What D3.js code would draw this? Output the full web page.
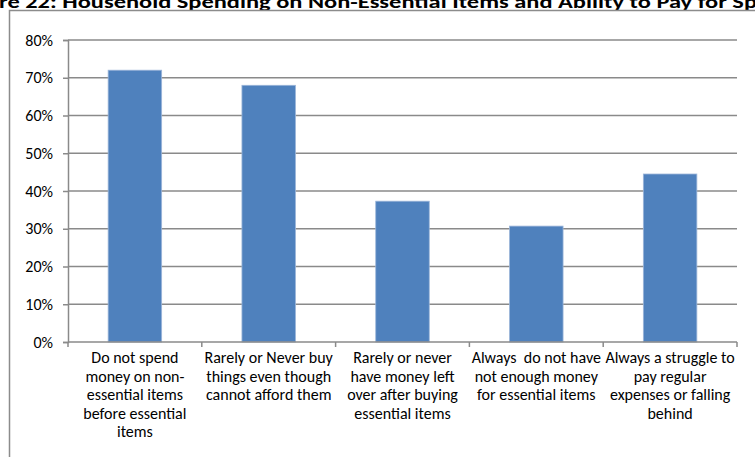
<!DOCTYPE html>
<html>
<head>
<meta charset="utf-8">
<script src="https://cdn.jsdelivr.net/npm/d3@7"></script>
<style>
  html, body { margin: 0; padding: 0; background: #fff; overflow: hidden; }
  svg { display: block; font-family: Carlito, Calibri, Lato, "Liberation Sans", sans-serif; }
  .ylab { font-size: 16px; font-family: Carlito, Calibri, Lato, "Liberation Sans", sans-serif; }
</style>
</head>
<body>
<svg id="chart" width="755" height="457"></svg>
<script>
const titleText = 're 22: Household Spending on Non-Essential Items and Ability to Pay for Sp';

const categories = [
  ['Do not spend', 'money on non-', 'essential items', 'before essential', 'items'],
  ['Rarely or Never buy', 'things even though', 'cannot afford them'],
  ['Rarely or never', 'have money left', 'over after buying', 'essential items'],
  ['Always\u00a0 do not have', 'not enough money', 'for essential items'],
  ['Always a struggle to', 'pay regular', 'expenses or falling', 'behind']
];
const values = [0.72, 0.68, 0.373, 0.307, 0.445];
const yTicks = [0, 0.1, 0.2, 0.3, 0.4, 0.5, 0.6, 0.7, 0.8];

const svg = d3.select('#chart');
const plotLeft = 68, plotRight = 737, plotTop = 40, plotBottom = 342;

// title (cut off at top edge, as in the source)
svg.append('text')
  .attr('x', -1).attr('y', 8)
  .attr('font-size', 17).attr('font-weight', 'bold')
  .attr('fill', '#000')
  .attr('textLength', 758).attr('lengthAdjust', 'spacingAndGlyphs')
  .text(titleText);

// chart frame
svg.append('rect')
  .attr('x', 9.5).attr('y', 10.5).attr('width', 760).attr('height', 460)
  .attr('fill', 'none').attr('stroke', '#8c8c8c').attr('stroke-width', 1.5);

const idx = d3.range(categories.length);
const x = d3.scaleBand().domain(idx).range([plotLeft, plotRight]).paddingInner(0.6).paddingOuter(0.3);
const xc = d3.scaleBand().domain(idx).range([plotLeft, plotRight]);
const y = d3.scaleLinear().domain([0, 0.8]).range([plotBottom, plotTop]);

// gridlines
svg.append('g')
  .selectAll('line')
  .data(yTicks.filter(d => d > 0))
  .join('line')
  .attr('x1', plotLeft).attr('x2', plotRight)
  .attr('y1', d => y(d)).attr('y2', d => y(d))
  .attr('stroke', '#8a8a8a').attr('stroke-width', 1.5);

// y axis (line + ticks from d3, labels drawn separately)
const yAxis = svg.append('g')
  .attr('transform', `translate(${plotLeft},0)`)
  .call(d3.axisLeft(y).tickValues(yTicks).tickFormat('').tickSize(5));
yAxis.select('.domain').attr('stroke', '#8a8a8a').attr('stroke-width', 1.5);
yAxis.selectAll('.tick line').attr('stroke', '#8a8a8a').attr('stroke-width', 1.5);

svg.append('g')
  .selectAll('text')
  .data(yTicks)
  .join('text')
  .attr('class', 'ylab')
  .attr('x', plotLeft - 15)
  .attr('y', d => y(d))
  .attr('dy', '0.35em')
  .attr('text-anchor', 'end')
  .attr('fill', '#000')
  .text(d3.format('.0%'));

// bars
svg.append('g')
  .selectAll('rect')
  .data(values)
  .join('rect')
  .attr('x', (d, i) => x(i))
  .attr('width', x.bandwidth())
  .attr('y', d => y(d))
  .attr('height', d => y(0) - y(d))
  .attr('fill', '#4f81bd')
  .attr('stroke', '#9bb5d9').attr('stroke-width', 0.8);

// x axis line and boundary ticks
svg.append('line')
  .attr('x1', plotLeft).attr('x2', plotRight).attr('y1', plotBottom).attr('y2', plotBottom)
  .attr('stroke', '#8a8a8a').attr('stroke-width', 1.5);
svg.append('g')
  .selectAll('line')
  .data(d3.range(categories.length + 1))
  .join('line')
  .attr('x1', i => plotLeft + i * xc.step()).attr('x2', i => plotLeft + i * xc.step())
  .attr('y1', plotBottom).attr('y2', plotBottom + 5)
  .attr('stroke', '#8a8a8a').attr('stroke-width', 1.5);

// category labels
svg.append('g')
  .selectAll('text')
  .data(categories)
  .join('text')
  .attr('text-anchor', 'middle')
  .attr('font-size', 16).attr('fill', '#000')
  .each(function (lines, i) {
    d3.select(this).selectAll('tspan')
      .data(lines)
      .join('tspan')
      .attr('x', xc(i) + xc.bandwidth() / 2)
      .attr('y', (d, j) => 363 + j * 18.5)
      .text(d => d);
  });
</script>
</body>
</html>
